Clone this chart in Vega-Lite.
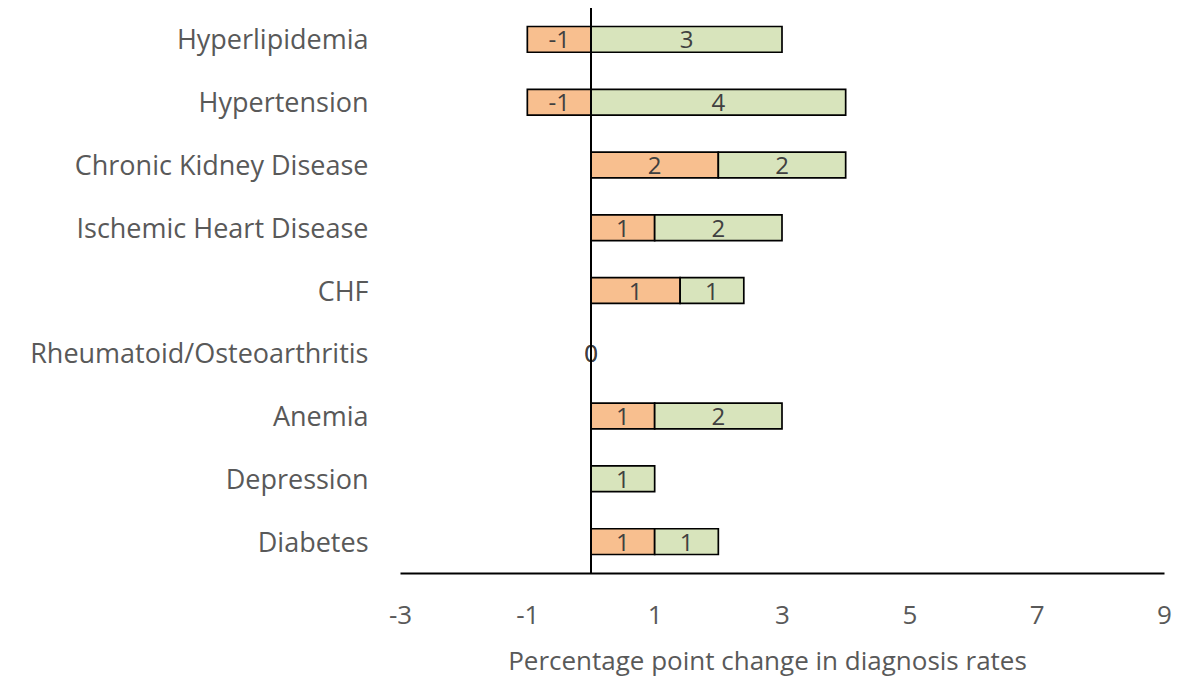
{
  "$schema": "https://vega.github.io/schema/vega-lite/v6.json",
  "width": 764,
  "height": 565,
  "autosize": {"type": "none"},
  "padding": {"left": 400, "top": 8, "right": 31, "bottom": 104},
  "background": "white",
  "config": {
    "view": {"stroke": null},
    "font": "Open Sans",
    "locale": {"number": {"decimal": ".", "thousands": ",", "grouping": [3], "currency": ["$", ""], "minus": "-"}}
  },
  "data": {
    "values": [
      {"condition": "Hyperlipidemia", "part": "Component 1", "value": -1},
      {"condition": "Hyperlipidemia", "part": "Component 2", "value": 3},
      {"condition": "Hypertension", "part": "Component 1", "value": -1},
      {"condition": "Hypertension", "part": "Component 2", "value": 4},
      {"condition": "Chronic Kidney Disease", "part": "Component 1", "value": 2},
      {"condition": "Chronic Kidney Disease", "part": "Component 2", "value": 2},
      {"condition": "Ischemic Heart Disease", "part": "Component 1", "value": 1},
      {"condition": "Ischemic Heart Disease", "part": "Component 2", "value": 2},
      {"condition": "CHF", "part": "Component 1", "value": 1.4},
      {"condition": "CHF", "part": "Component 2", "value": 1},
      {"condition": "Rheumatoid/Osteoarthritis", "part": "Component 1", "value": 0},
      {"condition": "Rheumatoid/Osteoarthritis", "part": "Component 2", "value": 0},
      {"condition": "Anemia", "part": "Component 1", "value": 1},
      {"condition": "Anemia", "part": "Component 2", "value": 2},
      {"condition": "Depression", "part": "Component 2", "value": 1},
      {"condition": "Diabetes", "part": "Component 1", "value": 1},
      {"condition": "Diabetes", "part": "Component 2", "value": 1}
    ]
  },
  "layer": [
    {
      "mark": {"type": "bar", "stroke": "black", "strokeWidth": 1.7},
      "encoding": {
        "y": {
          "field": "condition",
          "type": "nominal",
          "sort": null,
          "scale": {"paddingInner": 0.59, "paddingOuter": 0.295},
          "axis": {
            "title": null,
            "domain": false,
            "ticks": false,
            "labelFont": "Open Sans",
            "labelFontSize": 27,
            "labelColor": "#595959",
            "labelPadding": 32,
            "labelOffset": 2,
            "labelLimit": 500
          }
        },
        "x": {
          "field": "value",
          "type": "quantitative",
          "stack": "zero",
          "scale": {"domain": [-3, 9], "nice": false, "zero": false},
          "axis": {
            "values": [-3, -1, 1, 3, 5, 7, 9],
            "format": "d",
            "grid": false,
            "ticks": false,
            "labelFlush": false,
            "labelOverlap": false,
            "domainColor": "black",
            "domainWidth": 2,
            "labelFont": "Open Sans",
            "labelFontSize": 26,
            "labelColor": "#595959",
            "labelPadding": 29,
            "title": "Percentage point change in diagnosis rates",
            "titleFont": "Open Sans",
            "titleFontSize": 26,
            "titleFontWeight": "normal",
            "titleColor": "#595959",
            "titlePadding": 20,
            "titleX": 367
          }
        },
        "order": {"field": "part"},
        "color": {
          "field": "part",
          "type": "nominal",
          "scale": {"domain": ["Component 1", "Component 2"], "range": ["#F8BF8F", "#D8E4BC"]},
          "legend": null
        }
      }
    },
    {
      "mark": {"type": "text", "fontSize": 24, "color": "#404040", "baseline": "middle", "align": "center", "dy": 2},
      "encoding": {
        "y": {"field": "condition", "type": "nominal", "sort": null},
        "x": {"field": "value", "type": "quantitative", "stack": "zero", "bandPosition": 0.5},
        "order": {"field": "part"},
        "detail": {"field": "part"},
        "text": {"field": "value", "type": "quantitative", "format": ".0f"}
      }
    },
    {
      "data": {"values": [{"zero": 0}]},
      "mark": {"type": "rule", "color": "black", "strokeWidth": 2},
      "encoding": {"x": {"field": "zero", "type": "quantitative"}}
    }
  ]
}
